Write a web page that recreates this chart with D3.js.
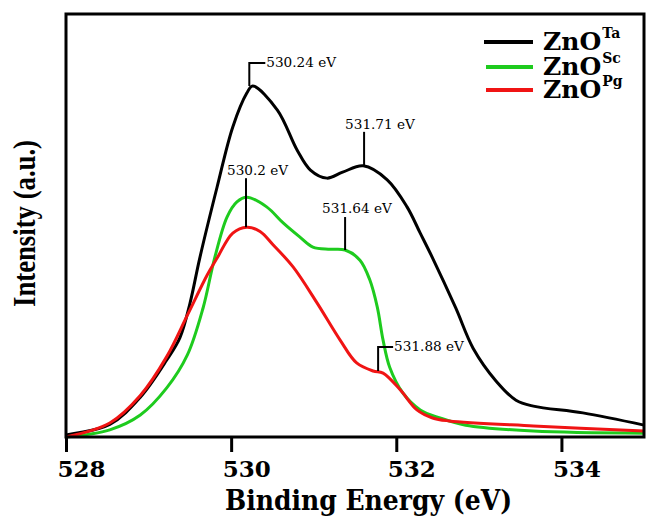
<!DOCTYPE html>
<html>
<head>
<meta charset="utf-8">
<script src="https://cdn.jsdelivr.net/npm/d3@7"></script>
<style>
  body { margin: 0; background: #fff; }
  svg { display: block; }
</style>
</head>
<body>
<svg id="chart" width="646" height="517"></svg>
<script>
// O 1s spectra (binding energy in eV, intensity in a.u.)
const taX = [528.0, 528.53, 528.9, 529.22, 529.38, 529.5, 529.62, 529.83, 530.02, 530.19, 530.26, 530.56, 530.8, 530.96, 531.16, 531.35, 531.6, 531.89, 532.13, 532.29, 532.44, 532.72, 532.93, 533.21, 533.45, 533.66, 534.26, 535.0];
const taY = [0.5, 3.0, 9.4, 18.2, 23.5, 31.5, 42.3, 59.1, 73.3, 81.3, 83.0, 77.3, 67.8, 63.1, 61.2, 62.6, 64.1, 60.8, 54.4, 48.2, 42.3, 30.5, 21.0, 13.2, 8.7, 7.3, 5.7, 2.8];

const scX = [528.0, 528.53, 528.9, 529.22, 529.47, 529.66, 529.8, 529.95, 530.07, 530.19, 530.43, 530.63, 530.83, 530.99, 531.2, 531.38, 531.56, 531.68, 531.77, 531.84, 531.92, 532.08, 532.29, 532.53, 532.84, 533.66, 535.0];
const scY = [0, 1.7, 5.2, 11.6, 19.4, 30.5, 42.3, 52.0, 55.6, 56.7, 54.4, 50.6, 47.3, 44.9, 44.4, 44.2, 41.8, 37.1, 30.7, 22.9, 16.5, 10.4, 6.4, 4.5, 2.8, 1.4, 0.9];

const pgX = [528.0, 528.53, 528.9, 529.22, 529.47, 529.71, 529.83, 530.02, 530.19, 530.35, 530.51, 530.75, 531.04, 531.32, 531.52, 531.72, 531.84, 532.05, 532.25, 532.44, 532.64, 533.66, 535.0];
const pgY = [0, 3.3, 9.8, 19.0, 28.8, 38.3, 42.3, 48.2, 49.6, 48.6, 45.4, 40.2, 31.7, 22.9, 17.5, 15.6, 15.1, 11.1, 6.4, 4.5, 3.8, 2.6, 1.4];

const seriesNames = ["Ta", "Sc", "Pg"];
const seriesColors = ["#000000", "#1ecb1e", "#f01414"];
const xTicks = [528, 530, 532, 534];

// peak labels: energy and intensity where each marker touches its curve
const peakLabels = ["530.24 eV", "531.71 eV", "530.2 eV", "531.64 eV", "531.88 eV"];
const peakX = [530.22, 531.61, 530.18, 531.38, 531.78];
const peakY = [83.0, 64.1, 49.6, 44.2, 15.6];

const svg = d3.select("#chart");
const plotL = 66, plotR = 644, plotT = 14, plotB = 437;

const x = d3.scaleLinear().domain([528, 535]).range([plotL, plotR]);
const y = d3.scaleLinear().domain([0, 100]).range([plotB, plotT]);

const line = d3.line()
  .x(d => x(d[0]))
  .y(d => y(d[1]))
  .curve(d3.curveCatmullRom.alpha(0.5));

const series = [
  d3.zip(taX, taY),
  d3.zip(scX, scY),
  d3.zip(pgX, pgY)
];

// curves
svg.append("g")
  .selectAll("path")
  .data(series)
  .join("path")
  .attr("d", line)
  .attr("fill", "none")
  .attr("stroke", (d, i) => seriesColors[i])
  .attr("stroke-width", 3)
  .attr("stroke-linejoin", "round");

// frame
svg.append("rect")
  .attr("x", plotL).attr("y", plotT)
  .attr("width", plotR - plotL).attr("height", plotB - plotT)
  .attr("fill", "none")
  .attr("stroke", "#000")
  .attr("stroke-width", 3);

// x axis, ticks pointing down
const xAxis = svg.append("g")
  .attr("transform", `translate(0,${plotB})`)
  .call(d3.axisBottom(x).tickValues(xTicks).tickSize(15).tickFormat(d3.format("d")));
xAxis.select(".domain").remove();
xAxis.selectAll(".tick line").attr("stroke", "#000").attr("stroke-width", 3);
xAxis.selectAll(".tick text")
  .attr("y", 40)
  .attr("dy", 0)
  .attr("x", -9)
  .attr("text-anchor", "start")
  .attr("fill", "#000")
  .style("font-family", "'DejaVu Serif', serif")
  .style("font-weight", "bold")
  .style("font-size", "23px");

// axis titles
svg.append("text")
  .attr("x", 368.5).attr("y", 510)
  .attr("text-anchor", "middle")
  .attr("textLength", 287)
  .attr("lengthAdjust", "spacingAndGlyphs")
  .style("font-family", "'DejaVu Serif', serif")
  .style("font-weight", "bold")
  .style("font-size", "27px")
  .text("Binding Energy (eV)");

svg.append("text")
  .attr("transform", "translate(35,223.5) rotate(-90)")
  .attr("text-anchor", "middle")
  .attr("textLength", 167)
  .attr("lengthAdjust", "spacingAndGlyphs")
  .style("font-family", "'Liberation Serif', serif")
  .style("font-weight", "bold")
  .style("font-size", "31px")
  .text("Intensity (a.u.)");

// peak markers
const ann = svg.append("g").attr("stroke", "#000").attr("stroke-width", 2).attr("fill", "none");
const annText = svg.append("g")
  .style("font-family", "'DejaVu Serif', serif")
  .style("font-size", "13.6px")
  .attr("fill", "#000");

// marker shape per label: [rise above curve, side step, text dx, text dy from top of stem]
const markerShape = [
  [23, 16, 17, 4],
  [34, 0, -19, -3],
  [49, 0, -19, -3],
  [33, 0, -23, -4],
  [24, 15, 16, 4]
];

peakLabels.forEach((label, i) => {
  const px = x(peakX[i]), py = y(peakY[i]);
  const [rise, step, tdx, tdy] = markerShape[i];
  const ty = py - rise;
  const p = d3.path();
  p.moveTo(px, py);
  p.lineTo(px, ty);
  if (step) p.lineTo(px + step, ty);
  ann.append("path").attr("d", p.toString());
  annText.append("text")
    .attr("x", px + tdx)
    .attr("y", ty + tdy)
    .text(label);
});

// legend
const legend = svg.append("g");
const legendY = [50, 75, 98];
seriesNames.forEach((name, i) => {
  legend.append("line")
    .attr("x1", i === 0 ? 484 : 486).attr("x2", 533)
    .attr("y1", legendY[i] - 8).attr("y2", legendY[i] - 8)
    .attr("stroke", seriesColors[i])
    .attr("stroke-width", 4);
  const t = legend.append("text")
    .attr("x", 543).attr("y", legendY[i])
    .style("font-family", "'DejaVu Serif', serif")
    .style("font-weight", "bold")
    .style("font-size", "25px");
  t.append("tspan").text("ZnO");
  t.append("tspan")
    .attr("dy", -12)
    .attr("dx", 1)
    .style("font-size", "14px")
    .text(name);
});
</script>
</body>
</html>
